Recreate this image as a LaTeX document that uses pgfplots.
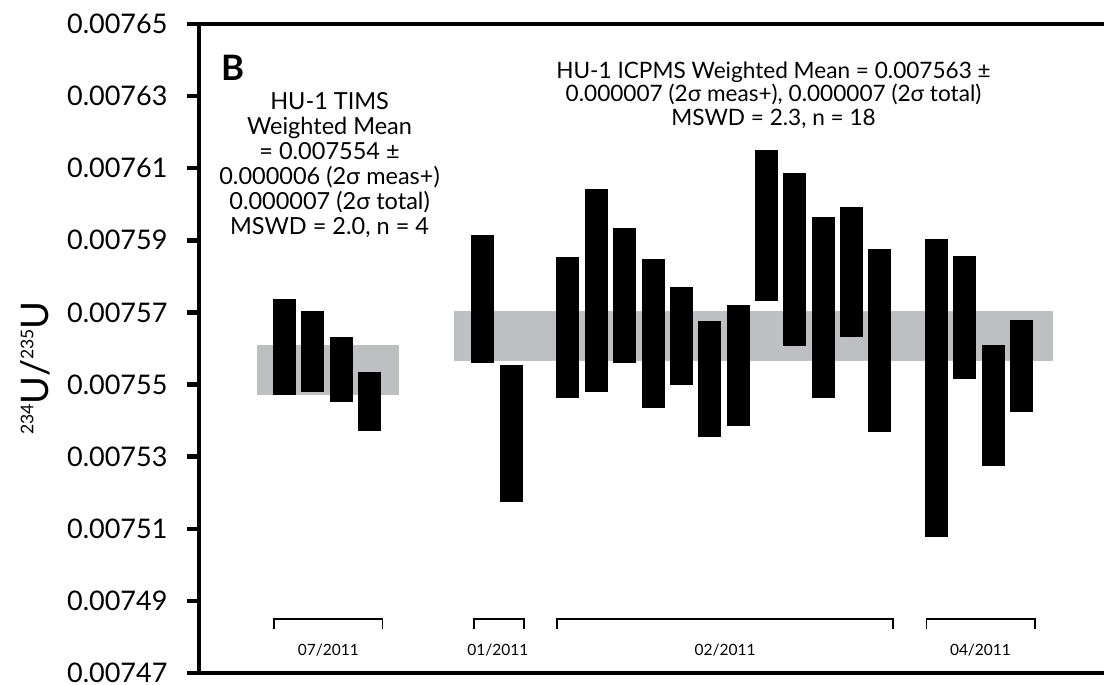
\documentclass[border=0pt]{standalone}
\usepackage{fontspec}
\setmainfont{Lato}
\usepackage{pgfplots}
\usepackage{pgfplotstable}
\pgfplotsset{compat=1.18}
\definecolor{boxgray}{RGB}{190,191,193}

\pgfplotstableread{
x  lo         hi
0  0.0075471  0.0075737
1  0.0075480  0.0075703
2  0.0075452  0.0075631
3  0.0075370  0.0075534
7  0.0075560  0.0075915
8  0.0075173  0.0075553
10 0.0075462  0.0075853
11 0.0075479  0.0076041
12 0.0075560  0.0075933
13 0.0075436  0.0075847
14 0.0075498  0.0075770
15 0.0075355  0.0075676
16 0.0075386  0.0075721
17 0.0075732  0.0076150
18 0.0075607  0.0076086
19 0.0075463  0.0075964
20 0.0075631  0.0075992
21 0.0075368  0.0075877
23 0.0075076  0.0075904
24 0.0075515  0.0075857
25 0.0075274  0.0075610
26 0.0075424  0.0075679
}\bars

\begin{document}
\begin{tikzpicture}
\begin{axis}[name=ax,
  width=905pt, height=649pt, scale only axis,
  xmin=-3.016, xmax=28.907, ymin=0.00747, ymax=0.00765,
  scaled y ticks=false,
  axis x line*=bottom, axis y line*=left,
  axis line style={line width=4.5pt, -},
  xtick=\empty,
  ytick={0.00747,0.00749,0.00751,0.00753,0.00755,0.00757,0.00759,0.00761,0.00763,0.00765},
  yticklabels={0.00747,0.00749,0.00751,0.00753,0.00755,0.00757,0.00759,0.00761,0.00763,0.00765},
  tick align=outside, major tick length=12pt,
  tick style={line width=4.5pt, black},
  yticklabel style={font=\fontsize{27}{27}\selectfont, xshift=-16pt},
  ylabel={\fontsize{38}{38}\selectfont\raisebox{15pt}{\fontsize{17.5}{17.5}\selectfont 234}U/\raisebox{15pt}{\fontsize{17.5}{17.5}\selectfont 235}U},
  every axis y label/.style={at={(axis description cs:-0.181,0.47)}, rotate=90, anchor=center},
  clip=false,
]
% weighted mean bands
\addplot[fill=boxgray, draw=none] coordinates {(-0.97,0.0075471) (4.04,0.0075471) (4.04,0.0075610) (-0.97,0.0075610)} --cycle;
\addplot[fill=boxgray, draw=none] coordinates {(5.99,0.0075566) (27.12,0.0075566) (27.12,0.0075703) (5.99,0.0075703)} --cycle;
% measurement bars
\addplot[draw=none, mark=none,
  error bars/.cd, y dir=plus, y explicit, error mark=none,
  error bar style={draw=black, line width=23pt}]
  table[x=x, y=lo, y error plus expr=\thisrow{hi}-\thisrow{lo}] {\bars};
% date brackets
\draw[line width=1.6pt] (axis cs:-0.36,0.0074822) |- (axis cs:3.45,0.0074850) -- (axis cs:3.45,0.0074822);
\draw[line width=1.6pt] (axis cs:6.68,0.0074822) |- (axis cs:8.45,0.0074850) -- (axis cs:8.45,0.0074822);
\draw[line width=1.6pt] (axis cs:9.62,0.0074822) |- (axis cs:21.47,0.0074850) -- (axis cs:21.47,0.0074822);
\draw[line width=1.6pt] (axis cs:22.65,0.0074822) |- (axis cs:26.47,0.0074850) -- (axis cs:26.47,0.0074822);
\node[font=\fontsize{15.5}{15.5}\selectfont] at (axis cs:1.545,0.0074764) {07/2011};
\node[font=\fontsize{15.5}{15.5}\selectfont] at (axis cs:7.53,0.0074764) {01/2011};
\node[font=\fontsize{15.5}{15.5}\selectfont] at (axis cs:15.54,0.0074764) {02/2011};
\node[font=\fontsize{15.5}{15.5}\selectfont] at (axis cs:24.55,0.0074764) {04/2011};
% annotations
\node[font=\fontsize{35}{35}\selectfont\bfseries] at (axis cs:-1.83,0.0076378) {B};
\node[align=center, font=\fontsize{23.5}{25}\selectfont] at (axis cs:1.59,0.0076109)
  {HU-1 TIMS\\Weighted Mean\\= 0.007554 ±\\0.000006 (2σ meas+)\\0.000007 (2σ total)\\MSWD = 2.0, n = 4};
\node[align=center, font=\fontsize{22.6}{23.5}\selectfont] at (axis cs:17.25,0.0076303)
  {HU-1 ICPMS Weighted Mean = 0.007563 ±\\0.000007 (2σ meas+), 0.000007 (2σ total)\\MSWD = 2.3, n = 18};
\end{axis}
\draw[line width=4.5pt] (ax.north west) -- (ax.north east);
\pgfresetboundingbox
\path ([xshift=-199pt,yshift=-12pt]ax.south west) rectangle ([yshift=24pt]ax.north east);
\end{tikzpicture}
\end{document}
